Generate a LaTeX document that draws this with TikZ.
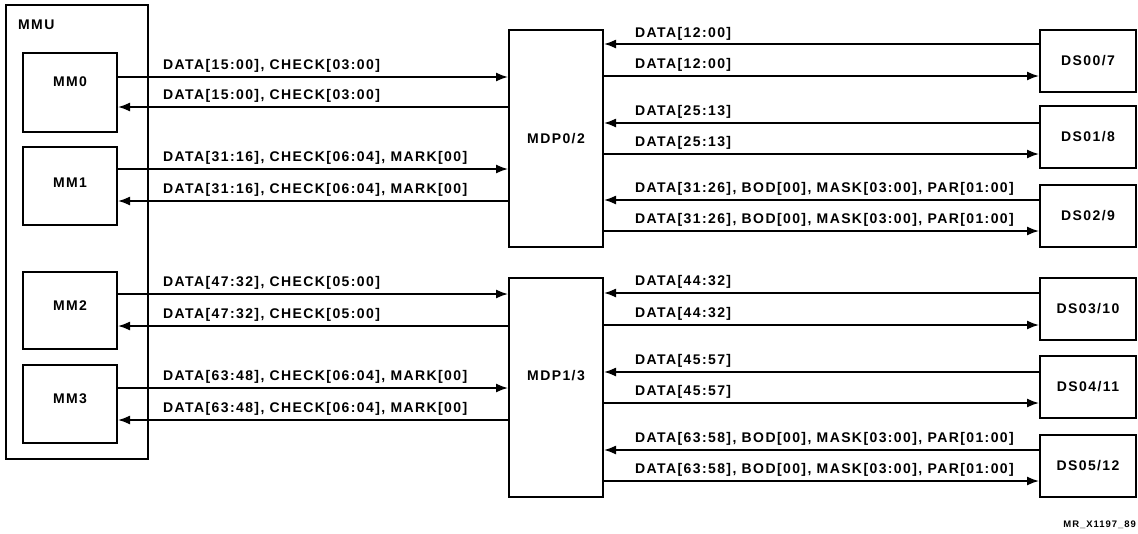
\documentclass[tikz,border=0pt]{standalone}
\usepackage{fontspec}
\newfontfamily\dgfont{Liberation Sans}[LetterSpace=10]
\usetikzlibrary{arrows.meta,positioning}

\begin{document}
\begin{tikzpicture}[x=1pt,y=-1pt,
    every node/.style={font=\dgfont\bfseries\fontsize{14}{16}\selectfont},
    unit/.style={draw, rectangle, line width=2pt, inner sep=0pt, minimum width=94pt},
    dsbox/.style={draw, rectangle, line width=2pt, inner sep=0pt, minimum width=96pt, minimum height=62pt},
    sig/.style={line width=1.6pt, -{Latex[length=12pt,width=9pt]}},
    lbl/.style={anchor=base west, inner sep=0pt}]
    \useasboundingbox (0,0) rectangle (1138,533);
    % memory side
    \node[draw, rectangle, line width=2pt, minimum width=142pt, minimum height=454pt] (mmu) at (77,232) {};
    \node[lbl] (mmut) at (18,29) {MMU};
    \node[unit, minimum height=79pt, label={[yshift=11pt]center:MM0}] (mm0) at (70,92.5) {};
    \node[unit, minimum height=78pt, label={[yshift=3pt]center:MM1}] (mm1) at (70,186) {};
    \node[unit, minimum height=77pt, label={[yshift=5pt]center:MM2}] (mm2) at (70,310.5) {};
    \node[unit, minimum height=78pt, label={[yshift=5pt]center:MM3}] (mm3) at (70,404) {};
    % data paths
    \node[unit, minimum height=217pt] (mdpa) at (556,138.5) {MDP0/2};
    \node[unit, minimum height=219pt, label={[yshift=12pt]center:MDP1/3}] (mdpb) at (556,387.5) {};
    % data stores
    \node[dsbox] (ds0) at (1088,60.5) {DS00/7};
    \node[dsbox] (ds1) at (1088,137) {DS01/8};
    \node[dsbox] (ds2) at (1088,216) {DS02/9};
    \node[dsbox] (ds3) at (1088,309) {DS03/10};
    \node[dsbox] (ds4) at (1088,387) {DS04/11};
    \node[dsbox] (ds5) at (1088,465.5) {DS05/12};

    \draw[sig] (mm0.east |- 0,77) -- (mdpa.west |- 0,77);
    \draw[sig] (mdpa.west |- 0,107) -- (mm0.east |- 0,107);
    \draw[sig] (mm1.east |- 0,169) -- (mdpa.west |- 0,169);
    \draw[sig] (mdpa.west |- 0,201) -- (mm1.east |- 0,201);
    \draw[sig] (mm2.east |- 0,294) -- (mdpb.west |- 0,294);
    \draw[sig] (mdpb.west |- 0,326) -- (mm2.east |- 0,326);
    \draw[sig] (mm3.east |- 0,388) -- (mdpb.west |- 0,388);
    \draw[sig] (mdpb.west |- 0,420) -- (mm3.east |- 0,420);

    \draw[sig] (ds0.west |- 0,44) -- (mdpa.east |- 0,44);
    \draw[sig] (mdpa.east |- 0,76) -- (ds0.west |- 0,76);
    \draw[sig] (ds1.west |- 0,123) -- (mdpa.east |- 0,123);
    \draw[sig] (mdpa.east |- 0,154) -- (ds1.west |- 0,154);
    \draw[sig] (ds2.west |- 0,200) -- (mdpa.east |- 0,200);
    \draw[sig] (mdpa.east |- 0,231) -- (ds2.west |- 0,231);
    \draw[sig] (ds3.west |- 0,293) -- (mdpb.east |- 0,293);
    \draw[sig] (mdpb.east |- 0,325) -- (ds3.west |- 0,325);
    \draw[sig] (ds4.west |- 0,372) -- (mdpb.east |- 0,372);
    \draw[sig] (mdpb.east |- 0,403) -- (ds4.west |- 0,403);
    \draw[sig] (ds5.west |- 0,450) -- (mdpb.east |- 0,450);
    \draw[sig] (mdpb.east |- 0,481) -- (ds5.west |- 0,481);

    % bus labels
    \node[lbl] (l0a) at (163,69) {DATA[15:00], CHECK[03:00]};
    \node[lbl] (l0b) at (163,99) {DATA[15:00], CHECK[03:00]};
    \node[lbl] (l1a) at (163,161) {DATA[31:16], CHECK[06:04], MARK[00]};
    \node[lbl] (l1b) at (163,193) {DATA[31:16], CHECK[06:04], MARK[00]};
    \node[lbl] (l2a) at (163,286) {DATA[47:32], CHECK[05:00]};
    \node[lbl] (l2b) at (163,318) {DATA[47:32], CHECK[05:00]};
    \node[lbl] (l3a) at (163,380) {DATA[63:48], CHECK[06:04], MARK[00]};
    \node[lbl] (l3b) at (163,412) {DATA[63:48], CHECK[06:04], MARK[00]};

    \node[lbl] (r0a) at (635,37) {DATA[12:00]};
    \node[lbl] (r0b) at (635,68) {DATA[12:00]};
    \node[lbl] (r1a) at (635,115) {DATA[25:13]};
    \node[lbl] (r1b) at (635,146) {DATA[25:13]};
    \node[lbl] (r2a) at (635,192) {DATA[31:26], BOD[00], MASK[03:00], PAR[01:00]};
    \node[lbl] (r2b) at (635,223) {DATA[31:26], BOD[00], MASK[03:00], PAR[01:00]};
    \node[lbl] (r3a) at (635,285) {DATA[44:32]};
    \node[lbl] (r3b) at (635,317) {DATA[44:32]};
    \node[lbl] (r4a) at (635,364) {DATA[45:57]};
    \node[lbl] (r4b) at (635,395) {DATA[45:57]};
    \node[lbl] (r5a) at (635,442) {DATA[63:58], BOD[00], MASK[03:00], PAR[01:00]};
    \node[lbl] (r5b) at (635,473) {DATA[63:58], BOD[00], MASK[03:00], PAR[01:00]};

    \node[anchor=base east, inner sep=0pt, font=\dgfont\bfseries\fontsize{9.5}{11}\selectfont] (tag) at (1136,527) {MR\_X1197\_89};
\end{tikzpicture}
\end{document}
